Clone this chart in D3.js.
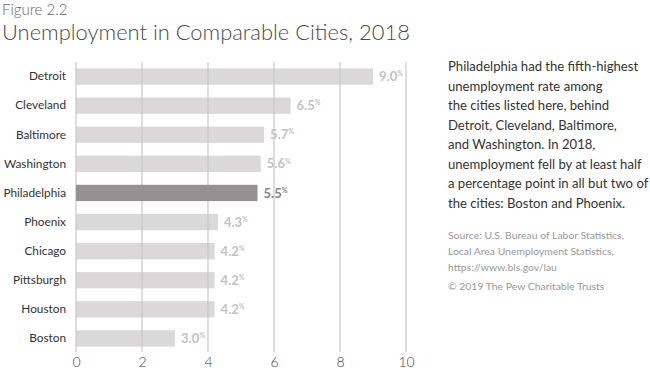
<!DOCTYPE html>
<html>
<head>
<meta charset="utf-8">
<script src="https://cdn.jsdelivr.net/npm/d3@7"></script>
<style>
  body { margin: 0; background: #fff; }
  svg { font-family: Lato, "Open Sans", sans-serif; }
</style>
</head>
<body>
<svg id="chart" width="650" height="376"></svg>
<script>
const cities = ["Detroit", "Cleveland", "Baltimore", "Washington", "Philadelphia",
  "Phoenix", "Chicago", "Pittsburgh", "Houston", "Boston"]
const rates = [9.0, 6.5, 5.7, 5.6, 5.5, 4.3, 4.2, 4.2, 4.2, 3.0]
const xTicks = [0, 2, 4, 6, 8, 10]
const highlight = "Philadelphia"

const noteLines = [
  "Philadelphia had the fifth-highest",
  "unemployment rate among",
  "the cities listed here, behind",
  "Detroit, Cleveland, Baltimore,",
  "and Washington. In 2018,",
  "unemployment fell by at least half",
  "a percentage point in all but two of",
  "the cities: Boston and Phoenix."
]
const sourceLines = [
  "Source: U.S. Bureau of Labor Statistics,",
  "Local Area Unemployment Statistics,",
  "https://www.bls.gov/lau"
]

const data = cities.map((c, i) => ({city: c, rate: rates[i]}))
const svg = d3.select("#chart")

// titles
svg.append("text").attr("x", 2).attr("y", 15)
  .attr("font-size", 15).attr("font-weight", 300).attr("fill", "#666")
  .text("Figure 2.2")
svg.append("text").attr("x", 2).attr("y", 40)
  .attr("font-size", 21.9).attr("font-weight", 300).attr("fill", "#4a4a4a")
  .text("Unemployment in Comparable Cities, 2018")

const x = d3.scaleLinear().domain([0, 10]).range([76, 406])
const y = d3.scaleBand().domain(cities).range([62, 353]).paddingInner(0.44).paddingOuter(0.22)

// light bars
svg.append("g").selectAll("rect")
  .data(data.filter(d => d.city !== highlight))
  .join("rect")
  .attr("x", x(0))
  .attr("y", d => y(d.city))
  .attr("width", d => x(d.rate) - x(0))
  .attr("height", y.bandwidth())
  .attr("fill", "#dad8d8")

// grid lines
svg.append("g").selectAll("line")
  .data(xTicks)
  .join("line")
  .attr("x1", d => x(d)).attr("x2", d => x(d))
  .attr("y1", 62).attr("y2", 352)
  .attr("stroke", "#c9c7c7").attr("stroke-width", 1.2)

// highlighted bar
svg.append("g").selectAll("rect")
  .data(data.filter(d => d.city === highlight))
  .join("rect")
  .attr("x", x(0))
  .attr("y", d => y(d.city))
  .attr("width", d => x(d.rate) - x(0))
  .attr("height", y.bandwidth())
  .attr("fill", "#959190")

// x axis tick labels
const xAxis = d3.axisBottom(x).tickValues(xTicks).tickSize(0).tickPadding(0)
const gx = svg.append("g").attr("transform", "translate(0,357)").call(xAxis)
gx.select(".domain").remove()
gx.selectAll("text").attr("font-family", "Lato, sans-serif").attr("font-size", 14)
  .attr("font-weight", 300).attr("fill", "#444").attr("dy", "0.71em")

// city labels
const yAxis = d3.axisLeft(y).tickSize(0).tickPadding(0)
const gy = svg.append("g").attr("transform", "translate(66,0)").call(yAxis)
gy.select(".domain").remove()
gy.selectAll("text").attr("font-family", "Lato, sans-serif").attr("font-size", 11.8)
  .attr("fill", "#333")

// value labels
const vals = svg.append("g").selectAll("text")
  .data(data)
  .join("text")
  .attr("x", d => x(d.rate) + 6)
  .attr("y", d => y(d.city) + y.bandwidth() / 2)
  .attr("dy", "0.35em")
  .attr("font-size", 13).attr("font-weight", 700)
  .attr("fill", d => d.city === highlight ? "#8a8685" : "#c4c2c2")
vals.append("tspan").text(d => d.rate.toFixed(1))
vals.append("tspan").attr("font-size", 7).attr("dy", "-0.7em").text("%")

// note text
svg.append("g").selectAll("text")
  .data(noteLines)
  .join("text")
  .attr("x", 448)
  .attr("y", (d, i) => 71 + i * 19.5)
  .attr("font-size", 13.1).attr("fill", "#333")
  .text(d => d)

svg.append("g").selectAll("text")
  .data(sourceLines)
  .join("text")
  .attr("x", 448)
  .attr("y", (d, i) => 239 + i * 16)
  .attr("font-size", 10.4).attr("fill", "#999")
  .text(d => d)

svg.append("text").attr("x", 448).attr("y", 290)
  .attr("font-size", 10.4).attr("fill", "#999")
  .text("© 2019 The Pew Charitable Trusts")
</script>
</body>
</html>
